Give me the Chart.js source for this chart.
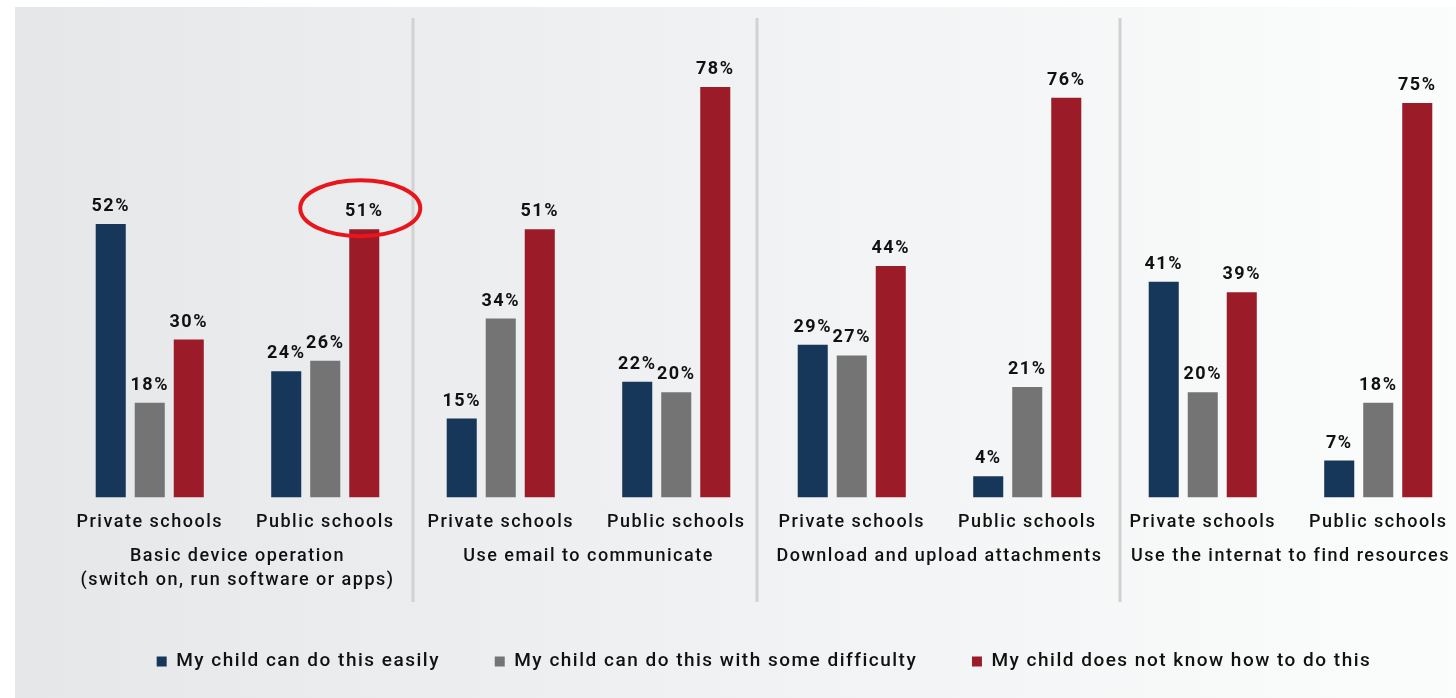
<!DOCTYPE html>
<html>
<head>
<meta charset="utf-8">
<script src="https://cdn.jsdelivr.net/npm/chart.js@4"></script>
<style>
  html, body { margin: 0; padding: 0; background: #fff; overflow: hidden; }
  #bg {
    position: absolute; left: 15px; top: 7px; right: 0; bottom: 0;
    background: linear-gradient(to right, #e6e7e9, #fbfcfc);
  }
  #wrap { position: absolute; left: 0; top: 0; width: 1500px; height: 698px; }
</style>
</head>
<body>
<div id="bg"></div>
<div id="wrap"><canvas id="skillsChart"></canvas></div>
<script>
// categories and groups
const schools = ['Private schools', 'Public schools', 'Private schools', 'Public schools',
  'Private schools', 'Public schools', 'Private schools', 'Public schools'];
const skills = [
  ['Basic device operation', '(switch on, run software or apps)'],
  'Use email to communicate',
  'Download and upload attachments',
  'Use the internat to find resources'
];

// series values (%)
const canDoEasily = [52, 24, 15, 22, 29, 4, 41, 7];
const someDifficulty = [18, 26, 34, 20, 27, 21, 20, 18];
const doesNotKnow = [30, 51, 51, 78, 44, 76, 39, 75];

const FONT = 'Roboto, "Open Sans", sans-serif';

// the original uses a wide-set font, so space the letters out a bit
const spacing = {
  id: 'spacing',
  beforeUpdate(chart) { chart.ctx.letterSpacing = '1.5px'; },
  beforeDraw(chart) { chart.ctx.letterSpacing = '1.5px'; }
};

// value labels above each bar
const barLabels = {
  id: 'barLabels',
  afterDatasetsDraw(chart) {
    const ctx = chart.ctx;
    ctx.save();
    ctx.font = 'bold 18px ' + FONT;
    ctx.fillStyle = '#111';
    ctx.textAlign = 'center';
    ctx.textBaseline = 'alphabetic';
    chart.data.datasets.forEach((ds, i) => {
      chart.getDatasetMeta(i).data.forEach((bar, j) => {
        ctx.fillText(ds.data[j] + '%', bar.x, bar.y - 13);
      });
    });
    ctx.restore();
  }
};

// grey dividers between the skill groups
const groupDividers = {
  id: 'groupDividers',
  beforeDatasetsDraw(chart) {
    const ctx = chart.ctx;
    const x = chart.scales.x;
    ctx.save();
    ctx.strokeStyle = '#d2d2d3';
    ctx.lineWidth = 3;
    [1.5, 3.46, 5.53].forEach(v => {
      const px = Math.round(x.getPixelForValue(v));
      ctx.beginPath();
      ctx.moveTo(px, 18);
      ctx.lineTo(px, 602);
      ctx.stroke();
    });
    ctx.restore();
  }
};

// red ellipse highlighting the public schools 51%
const highlight = {
  id: 'highlight',
  afterDraw(chart) {
    const bar = chart.getDatasetMeta(2).data[1];
    const ctx = chart.ctx;
    ctx.save();
    ctx.strokeStyle = '#e8161c';
    ctx.lineWidth = 4;
    ctx.beginPath();
    ctx.ellipse(bar.x - 4, bar.y - 21, 60, 28, 0, 0, Math.PI * 2);
    ctx.stroke();
    ctx.restore();
  }
};

new Chart(document.getElementById('skillsChart'), {
  type: 'bar',
  data: {
    labels: schools,
    datasets: [
      { label: 'My child can do this easily', data: canDoEasily, backgroundColor: '#163759' },
      { label: 'My child can do this with some difficulty', data: someDifficulty, backgroundColor: '#747474' },
      { label: 'My child does not know how to do this', data: doesNotKnow, backgroundColor: '#9b1c28' }
    ]
  },
  options: {
    responsive: true,
    maintainAspectRatio: false,
    animation: false,
    categoryPercentage: 0.667,
    barPercentage: 0.77,
    layout: { padding: { left: 62, right: 34, top: 24, bottom: 17 } },
    scales: {
      y: { display: false, min: 0, max: 90 },
      x: {
        weight: 0,
        grid: { display: false, drawTicks: false },
        border: { display: false },
        ticks: { color: '#111', font: { family: FONT, size: 18, weight: '500' }, padding: 14, maxRotation: 0 }
      },
      x2: {
        type: 'category',
        labels: skills,
        position: 'bottom',
        weight: 1,
        offset: true,
        grid: { display: false, drawTicks: false },
        border: { display: false },
        ticks: { color: '#111', font: { family: FONT, size: 18, weight: '500', lineHeight: 1.333 }, padding: -3, maxRotation: 0 },
        afterFit(scale) { scale.height += 50; }
      }
    },
    plugins: {
      legend: {
        position: 'bottom',
        labels: {
          color: '#111',
          font: { family: FONT, size: 19, weight: '500' },
          boxWidth: 10,
          boxHeight: 10,
          padding: 13,
          // wider gaps between the items than the legend padding allows
          generateLabels(chart) {
            const items = Chart.defaults.plugins.legend.labels.generateLabels(chart);
            items.forEach((it, i) => {
              if (i < items.length - 1) it.text += '\u2003\u2003';
            });
            return items;
          }
        }
      },
      tooltip: { enabled: false }
    }
  },
  plugins: [spacing, barLabels, groupDividers, highlight]
});
</script>
</body>
</html>
